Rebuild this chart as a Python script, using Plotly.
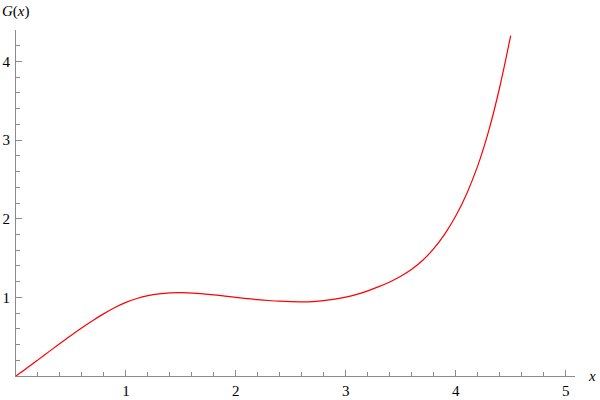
import plotly.graph_objects as go

x_vals = [0.0, 0.1, 0.2, 0.3, 0.4, 0.5, 0.6, 0.7, 0.8, 0.9, 1.0,
          1.1, 1.2, 1.3, 1.4, 1.5, 1.6, 1.7, 1.8, 1.9, 2.0,
          2.1, 2.2, 2.3, 2.4, 2.5, 2.6, 2.7, 2.8, 2.9, 3.0,
          3.1, 3.2, 3.3, 3.4, 3.5, 3.6, 3.7, 3.8, 3.9, 4.0,
          4.1, 4.2, 4.3, 4.4, 4.5]
g_vals = [0.0, 0.101, 0.205, 0.31, 0.414, 0.516, 0.614, 0.707, 0.793, 0.871, 0.936,
          0.986, 1.022, 1.045, 1.057, 1.059, 1.054, 1.045, 1.032, 1.016, 1.0,
          0.985, 0.971, 0.96, 0.951, 0.945, 0.943, 0.947, 0.958, 0.977, 1.003,
          1.038, 1.083, 1.136, 1.196, 1.268, 1.357, 1.472, 1.619, 1.804, 2.034,
          2.319, 2.672, 3.117, 3.672, 4.327]
x_ticks = [1, 2, 3, 4, 5]
y_ticks = [1, 2, 3, 4]

AXC = "#8a8a8a"
FONT = "Liberation Serif, Times New Roman, serif"

fig = go.Figure()
fig.add_trace(go.Scatter(x=x_vals, y=g_vals, mode="lines",
                         line=dict(color="#ff0000", width=1.2, shape="spline", smoothing=1.0),
                         hoverinfo="skip", showlegend=False))

fig.update_layout(
    width=600, height=400,
    margin=dict(l=16, r=25, t=30, b=24, autoexpand=False),
    paper_bgcolor="white", plot_bgcolor="white",
    font=dict(family=FONT, size=15, color="black"),
    xaxis=dict(range=[0, 5.085], showgrid=False, zeroline=False,
               showline=True, linecolor=AXC, linewidth=1,
               tickmode="array", tickvals=x_ticks,
               ticks="inside", ticklen=6, tickcolor=AXC, tickwidth=1,
               minor=dict(tickmode="linear", tick0=0, dtick=0.2, ticks="inside",
                          ticklen=4, tickcolor=AXC, tickwidth=1),
               tickfont=dict(family=FONT, size=15, color="black"),
               ticklabelstandoff=1,
               automargin=False, fixedrange=True),
    yaxis=dict(range=[0, 4.4], showgrid=False, zeroline=False,
               showline=True, linecolor=AXC, linewidth=1,
               tickmode="array", tickvals=y_ticks,
               ticks="inside", ticklen=6, tickcolor=AXC, tickwidth=1,
               minor=dict(tickmode="linear", tick0=0, dtick=0.2, ticks="inside",
                          ticklen=4, tickcolor=AXC, tickwidth=1),
               tickfont=dict(family=FONT, size=15, color="black"),
               ticklabelstandoff=2,
               automargin=False, fixedrange=True),
    annotations=[
        dict(text="<i>G</i>(<i>x</i>)", xref="paper", yref="paper",
             x=-16/559, y=1 + 18/346, xanchor="left", yanchor="middle",
             showarrow=False, font=dict(family=FONT, size=15, color="black")),
        dict(text="<i>x</i>", xref="paper", yref="paper",
             x=1 + 17/559, y=0, xanchor="center", yanchor="middle",
             showarrow=False, font=dict(family=FONT, size=15, color="black")),
    ],
)

fig.write_html("out.html",
               config={"displayModeBar": False, "staticPlot": True},
               post_script="document.body.style.margin='0';document.body.style.overflow='hidden';")
